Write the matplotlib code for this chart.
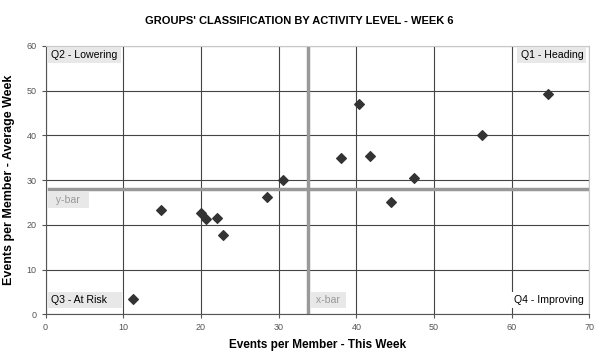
import matplotlib
matplotlib.use("Agg")
import matplotlib.pyplot as plt

plt.rcParams['font.family'] = ['Liberation Sans', 'DejaVu Sans']

# events per member this week vs average week
this_week = [11.3, 14.8, 20.0, 20.6, 22.0, 22.8, 28.5, 30.5, 38.0, 40.4, 41.7, 44.5, 47.4, 56.2, 64.6]
avg_week = [3.5, 23.4, 22.7, 21.2, 21.5, 17.7, 26.3, 30.0, 35.0, 47.0, 35.3, 25.1, 30.5, 40.0, 49.3]
x_bar = 33.8
y_bar = 28.1

fig = plt.figure(figsize=(5.99, 3.51), dpi=100)
ax = fig.add_axes([0.0761, 0.1046, 0.908, 0.7644])

ax.set_xlim(0, 70)
ax.set_ylim(0, 60)
ax.set_xticks(range(0, 71, 10))
ax.set_yticks(range(0, 61, 10))
ax.grid(True, color='#444444', linewidth=0.8)
ax.set_axisbelow(True)

for s in ['top', 'right']:
    ax.spines[s].set_color('#c8c8c8')
for s in ['left', 'bottom']:
    ax.spines[s].set_color('#555555')
    ax.spines[s].set_linewidth(0.8)
ax.tick_params(labelsize=6.5, colors='#555555', length=3, width=0.8)

# mean lines
ax.plot([x_bar, x_bar], [0.3, 59.5], color='#999999', linewidth=2.5, zorder=2)
ax.plot([0.5, 70], [y_bar, y_bar], color='#999999', linewidth=2.5, zorder=2)

ax.scatter(this_week, avg_week, marker='D', s=24, color='#333333', zorder=3)

box = dict(boxstyle='square,pad=0.3', facecolor='#e8e8e8', edgecolor='none')
fs = 7.6
ax.text(0.75, 58.0, 'Q2 - Lowering', fontsize=fs, va='center', ha='left', bbox=box)
ax.text(69.2, 58.0, 'Q1 - Heading', fontsize=fs, va='center', ha='right', bbox=box)
ax.text(0.75, 3.2, 'Q3 - At Risk    ', fontsize=fs, va='center', ha='left', bbox=box)
ax.text(69.2, 3.2, 'Q4 - Improving', fontsize=fs, va='center', ha='right',
        bbox=dict(boxstyle='square,pad=0.3', facecolor='white', edgecolor='none'))
ax.text(0.6, 25.6, '  y-bar  ', fontsize=fs, va='center', ha='left', color='#999999', bbox=box)
ax.text(34.4, 3.2, ' x-bar ', fontsize=fs, va='center', ha='left', color='#999999', bbox=box)

fig.suptitle("GROUPS' CLASSIFICATION BY ACTIVITY LEVEL - WEEK 6", y=0.955,
             fontsize=8, fontweight='bold')
ax.set_xlabel('Events per Member - This Week', fontsize=8.5, fontweight='bold', labelpad=5)
ax.set_ylabel('Events per Member - Average Week', fontsize=9, fontweight='bold', labelpad=8)

fig.savefig('out.png', dpi=100)
